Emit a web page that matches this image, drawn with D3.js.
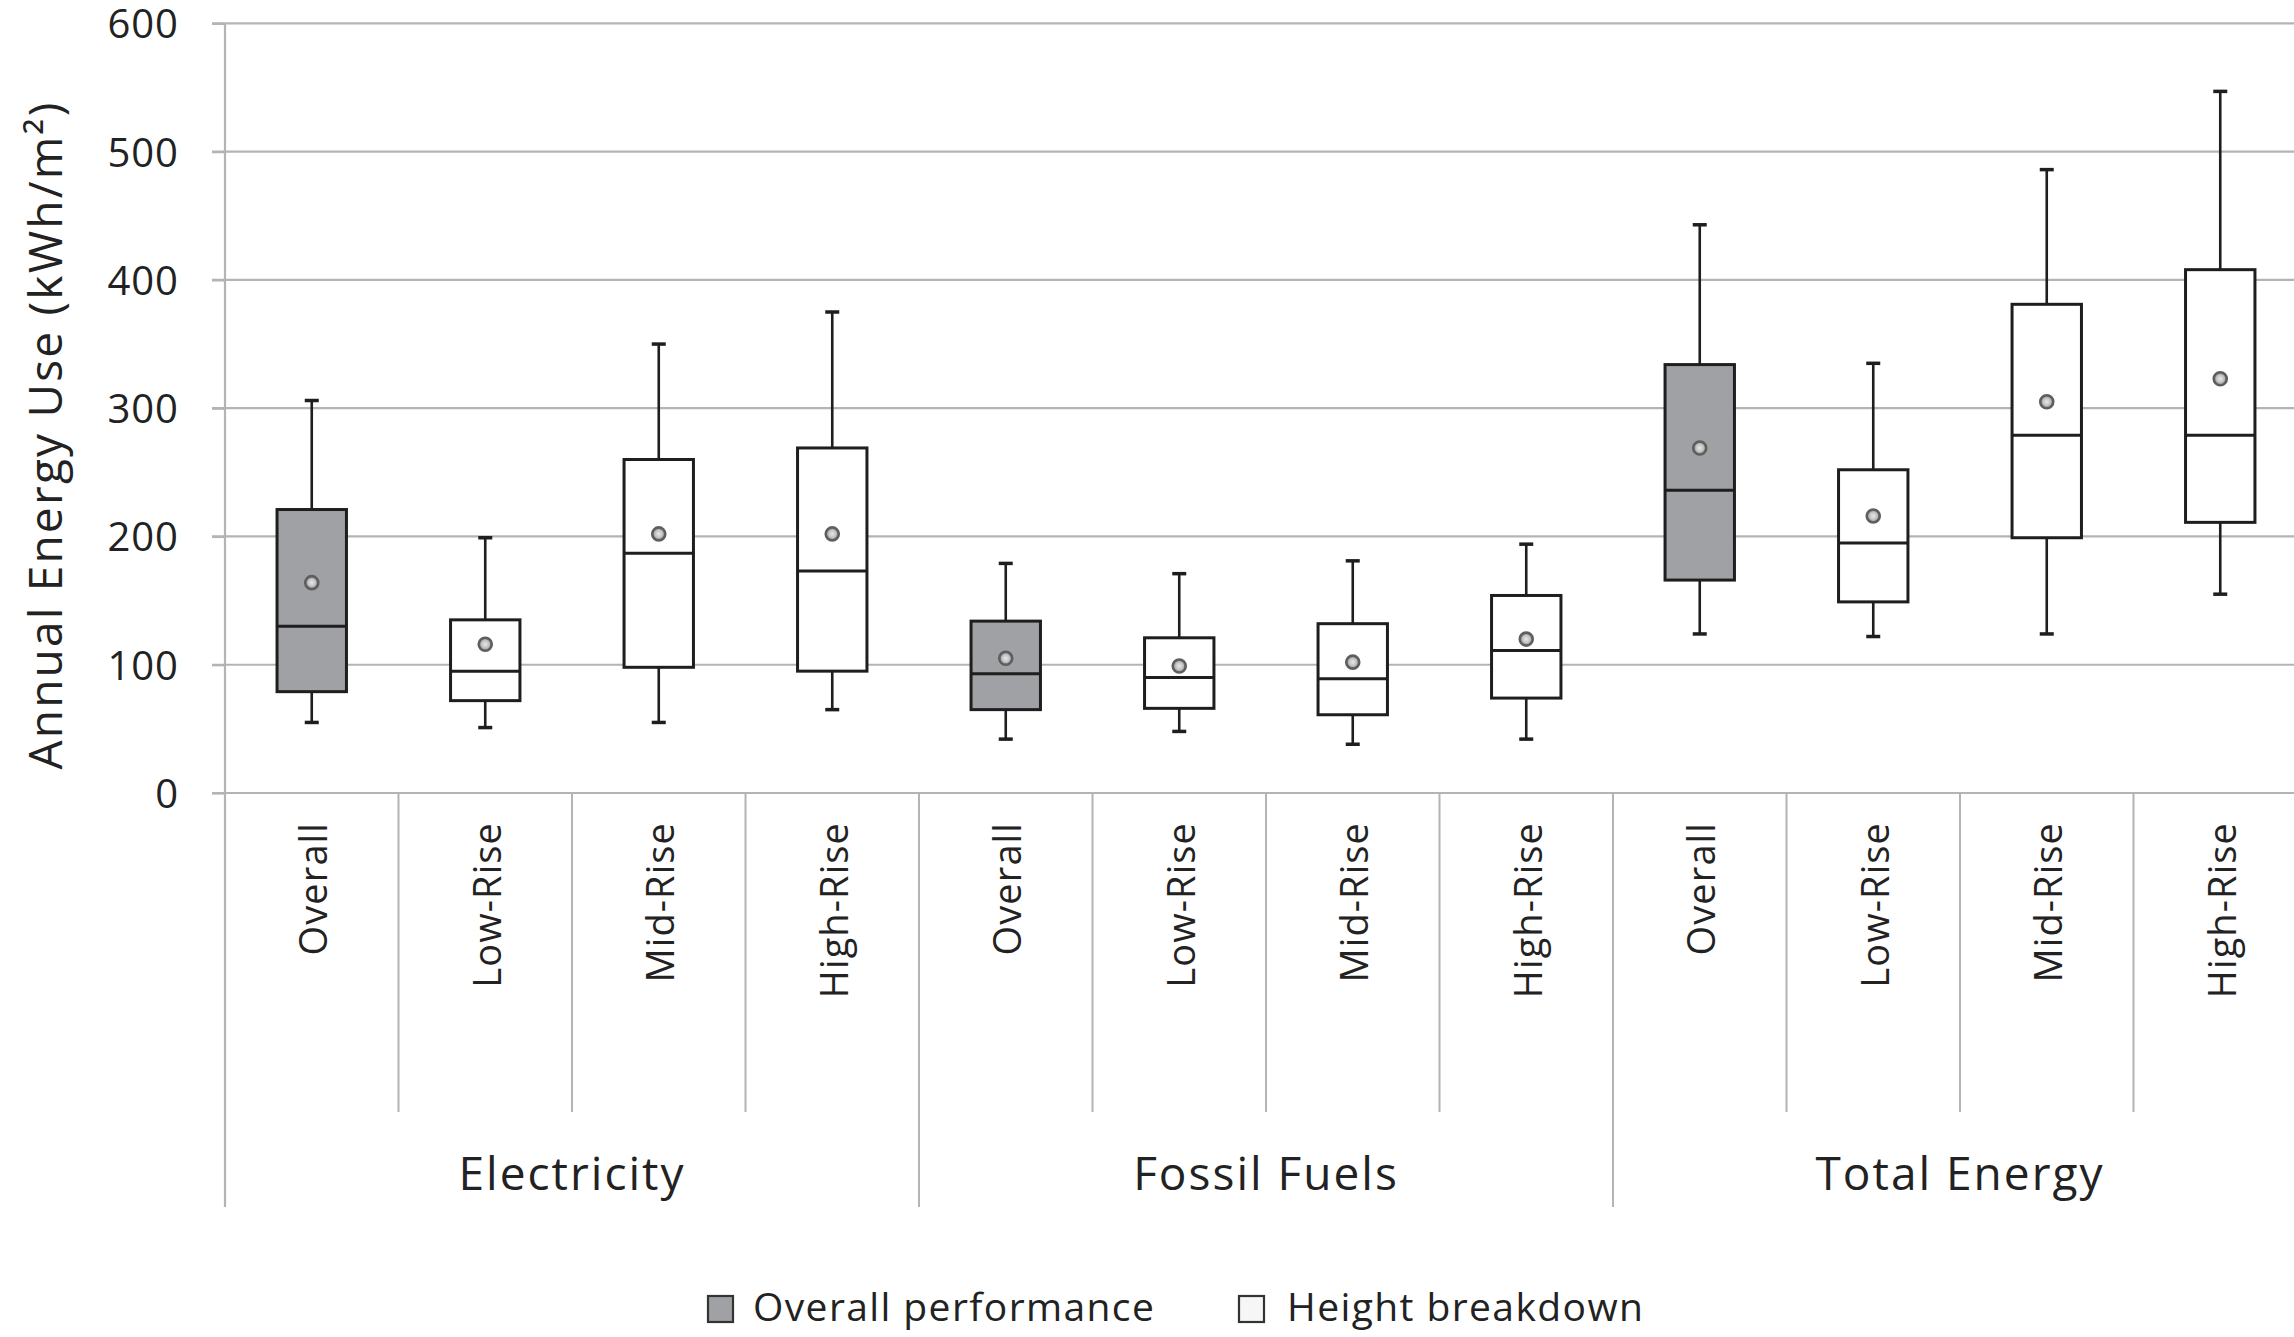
<!DOCTYPE html>
<html><head><meta charset="utf-8">
<script src="https://cdn.jsdelivr.net/npm/d3@7"></script>
<style>body{margin:0;background:#fff}svg{display:block}text{font-family:"Open Sans",sans-serif;fill:#222}</style>
</head><body>
<script>
const groups = ["Electricity","Fossil Fuels","Total Energy"];
const subcats = ["Overall","Low-Rise","Mid-Rise","High-Rise"];
const yTicks = [0,100,200,300,400,500,600];
// per category (group order, subcat order)
const whiskerLow  = [55, 51, 55, 65,   42, 48, 38, 42,   124, 122, 124, 155];
const q1          = [79, 72, 98, 95,   65, 66, 61, 74,   166, 149, 199, 211];
const median      = [130, 95, 187, 173, 93, 90, 89, 111, 236, 195, 279, 279];
const q3          = [221, 135, 260, 269, 134, 121, 132, 154, 334, 252, 381, 408];
const whiskerHigh = [306, 199, 350, 375, 179, 171, 181, 194, 443, 335, 486, 547];
const meanVal     = [164, 116, 202, 202, 105, 99, 102, 120, 269, 216, 305, 323];

const W=2294,H=1337;
const svg=d3.select("body").append("svg").attr("width",W).attr("height",H);
const defs=svg.append("defs");
const rg=defs.append("radialGradient").attr("id","mg");
rg.append("stop").attr("offset","0%").attr("stop-color","#e8e8e8");
rg.append("stop").attr("offset","55%").attr("stop-color","#c4c4c4");
rg.append("stop").attr("offset","100%").attr("stop-color","#8a8a8a");

const cats=[];groups.forEach(g=>subcats.forEach(s=>cats.push(g+"|"+s)));
const x0=225, x1=2307, yTop=23.4, yBot=793;
const x=d3.scaleBand().domain(cats).range([x0,x1]).paddingInner(0).paddingOuter(0);
const y=d3.scaleLinear().domain([0,600]).range([yBot,yTop]);
const gx=d3.scaleBand().domain(groups).range([x0,x1]);

// gridlines
svg.append("g").selectAll("line").data(yTicks).join("line")
 .attr("x1",212).attr("x2",W).attr("y1",d=>y(d)).attr("y2",d=>y(d))
 .attr("stroke","#b4b4b4").attr("stroke-width",2.2);
// y axis
const ya=svg.append("g").attr("transform",`translate(${x0},0)`)
 .call(d3.axisLeft(y).tickValues(yTicks).tickSize(13).tickPadding(33));
ya.select(".domain").remove();
ya.selectAll(".tick line").attr("stroke","#b4b4b4").attr("stroke-width",2.2);
ya.selectAll(".tick text").attr("font-size",40).attr("fill","#222").attr("font-family","Open Sans")
 .attr("dy","0.36em").attr("letter-spacing",1);
svg.append("line").attr("x1",x0).attr("x2",x0).attr("y1",yTop).attr("y2",1207).attr("stroke","#b4b4b4").attr("stroke-width",2.2);

// category separators
const bounds=cats.map(c=>x(c)).slice(1);
svg.append("g").selectAll("line").data(bounds).join("line")
 .attr("x1",d=>d).attr("x2",d=>d).attr("y1",yBot)
 .attr("y2",(d,i)=>((i+1)%4===0)?1207:1112)
 .attr("stroke","#b4b4b4").attr("stroke-width",2);

// y title
svg.append("text").attr("transform",`translate(62,435) rotate(-90)`)
 .attr("text-anchor","middle").attr("font-size",46).attr("letter-spacing",2.2).text("Annual Energy Use (kWh/m²)");

// category labels
svg.append("g").selectAll("text").data(cats).join("text")
 .attr("transform",d=>`translate(${x(d)+x.bandwidth()/2+2},822) rotate(-90)`)
 .attr("text-anchor","end").attr("dy","0.35em").attr("font-size",38).attr("letter-spacing",1.1)
 .text(d=>d.split("|")[1]);
// group labels
svg.append("g").selectAll("text").data(groups).join("text")
 .attr("x",d=>gx(d)+gx.bandwidth()/2).attr("y",1190).attr("text-anchor","middle")
 .attr("font-size",46).attr("letter-spacing",2).text(d=>d);

// boxes
const bw=x.bandwidth()*0.4, cap=14;
const bx=svg.append("g");
cats.forEach((c,i)=>{
 const cx=x(c)+x.bandwidth()/2;
 const g=bx.append("g").attr("stroke","#1e1e1e").attr("stroke-width",2.6);
 g.append("line").attr("x1",cx).attr("x2",cx).attr("y1",y(whiskerHigh[i])).attr("y2",y(q3[i]));
 g.append("line").attr("x1",cx).attr("x2",cx).attr("y1",y(q1[i])).attr("y2",y(whiskerLow[i]));
 g.append("line").attr("x1",cx-cap/2).attr("x2",cx+cap/2).attr("y1",y(whiskerHigh[i])).attr("y2",y(whiskerHigh[i])).attr("stroke-width",3.5);
 g.append("line").attr("x1",cx-cap/2).attr("x2",cx+cap/2).attr("y1",y(whiskerLow[i])).attr("y2",y(whiskerLow[i])).attr("stroke-width",3.5);
 g.append("rect").attr("x",cx-bw/2).attr("width",bw).attr("y",y(q3[i])).attr("height",y(q1[i])-y(q3[i]))
  .attr("fill",i%4===0?"#a0a1a4":"#fff").attr("stroke-width",3);
 g.append("line").attr("x1",cx-bw/2).attr("x2",cx+bw/2).attr("y1",y(median[i])).attr("y2",y(median[i])).attr("stroke-width",3);
 g.append("circle").attr("cx",cx).attr("cy",y(meanVal[i])).attr("r",6.5).attr("fill","url(#mg)")
  .attr("stroke","#5e5e5e").attr("stroke-width",2.6);
});

// legend
const lg=svg.append("g");
lg.append("rect").attr("x",708).attr("y",1296).attr("width",25).attr("height",26).attr("fill","#a0a1a4").attr("stroke","#333").attr("stroke-width",2.2);
lg.append("text").attr("x",753).attr("y",1321).attr("font-size",39).attr("letter-spacing",1.4).text("Overall performance");
lg.append("rect").attr("x",1239).attr("y",1296).attr("width",25).attr("height",26).attr("fill","#f6f6f6").attr("stroke","#333").attr("stroke-width",2.2);
lg.append("text").attr("x",1287).attr("y",1321).attr("font-size",39).attr("letter-spacing",1.4).text("Height breakdown");
</script>
</body></html>
